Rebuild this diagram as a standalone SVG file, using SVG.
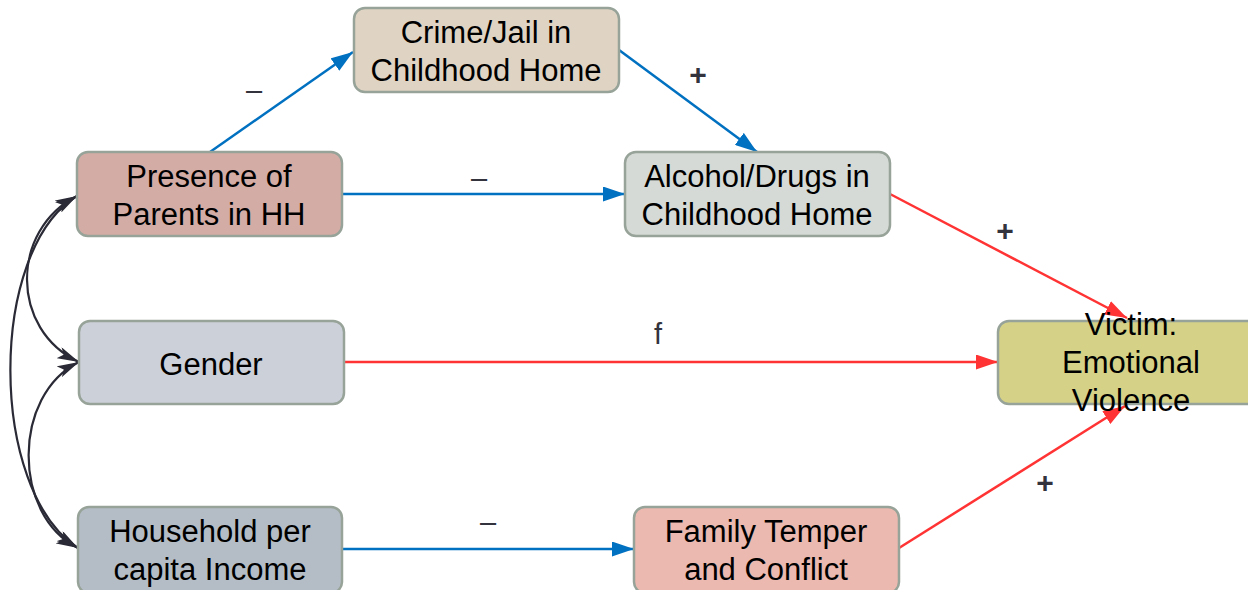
<svg xmlns="http://www.w3.org/2000/svg" width="1248" height="590" viewBox="0 0 1248 590">
  <style>
    .box { stroke: #97a398; stroke-width: 2.5; }
    .lbl { font-family: "Liberation Sans", Arial, sans-serif; font-size: 31px; fill: #000; text-anchor: middle; }
    .sign { font-family: "Liberation Sans", Arial, sans-serif; font-size: 29px; fill: #33333d; text-anchor: middle; }
    .plus { font-weight: bold; font-size: 30px; }
    .neg { fill: none; stroke: #0070c0; stroke-width: 2.5; }
    .pos { fill: none; stroke: #ff3333; stroke-width: 2.5; }
    .cor { fill: none; stroke: #2a2a36; stroke-width: 2.2; }
  </style>
  <defs>
    <marker id="arrBlue" viewBox="0 0 22 15" refX="22" refY="7.5" markerWidth="22" markerHeight="15" markerUnits="userSpaceOnUse" orient="auto">
      <path d="M0,0 L22,7.5 L0,15 Z" fill="#0070c0"/>
    </marker>
    <marker id="arrRed" viewBox="0 0 22 15" refX="22" refY="7.5" markerWidth="22" markerHeight="15" markerUnits="userSpaceOnUse" orient="auto">
      <path d="M0,0 L22,7.5 L0,15 Z" fill="#ff3333"/>
    </marker>
    <marker id="arrDark" viewBox="0 0 22 12" refX="22" refY="6" markerWidth="22" markerHeight="12" markerUnits="userSpaceOnUse" orient="auto-start-reverse">
      <path d="M0,0 L22,6 L0,12 L5,6 Z" fill="#2a2a36"/>
    </marker>
  </defs>

  <!-- connectors -->
  <g id="connectors">
    <!-- correlations between exogenous variables -->
    <path class="cor" d="M77 196 C10 230, 10 330, 79 362" marker-start="url(#arrDark)" marker-end="url(#arrDark)"/>
    <path class="cor" d="M79 362 C12 395, 12 515, 78 548" marker-start="url(#arrDark)" marker-end="url(#arrDark)"/>
    <path class="cor" d="M77 196 C-12 250, -12 490, 78 548" marker-start="url(#arrDark)" marker-end="url(#arrDark)"/>

    <!-- negative paths -->
    <line class="neg" x1="210" y1="152" x2="353" y2="52" marker-end="url(#arrBlue)"/>
    <line class="neg" x1="619" y1="50" x2="757" y2="152" marker-end="url(#arrBlue)"/>
    <line class="neg" x1="342" y1="194" x2="625" y2="194" marker-end="url(#arrBlue)"/>
    <line class="neg" x1="342" y1="549" x2="634" y2="549" marker-end="url(#arrBlue)"/>

    <!-- positive paths -->
    <line class="pos" x1="890" y1="194" x2="1127" y2="318" marker-end="url(#arrRed)"/>
    <line class="pos" x1="344" y1="362" x2="998" y2="362" marker-end="url(#arrRed)"/>
    <line class="pos" x1="899" y1="548" x2="1125" y2="406" marker-end="url(#arrRed)"/>

    <!-- path signs -->
    <text class="sign" x="254" y="100">–</text>
    <text class="sign plus" x="698" y="85">+</text>
    <text class="sign" x="479" y="188">–</text>
    <text class="sign plus" x="1005" y="241">+</text>
    <text class="sign" x="658" y="344">f</text>
    <text class="sign" x="488" y="532">–</text>
    <text class="sign plus" x="1045" y="493">+</text>
  </g>

  <!-- nodes -->
  <g id="crime">
    <rect class="box" x="354" y="8" width="265" height="84" rx="11" fill="#dfd3c3"/>
    <text class="lbl" x="486" y="43">Crime/Jail in</text>
    <text class="lbl" x="486" y="81">Childhood Home</text>
  </g>
  <g id="presence">
    <rect class="box" x="77" y="152" width="265" height="84" rx="11" fill="#d4aca6"/>
    <text class="lbl" x="209" y="187">Presence of</text>
    <text class="lbl" x="209" y="225">Parents in HH</text>
  </g>
  <g id="alcohol">
    <rect class="box" x="625" y="152" width="265" height="84" rx="11" fill="#d5dad6"/>
    <text class="lbl" x="757" y="187">Alcohol/Drugs in</text>
    <text class="lbl" x="757" y="225">Childhood Home</text>
  </g>
  <g id="gender">
    <rect class="box" x="79" y="321" width="265" height="83" rx="11" fill="#ccd0d9"/>
    <text class="lbl" x="211" y="375">Gender</text>
  </g>
  <g id="victim">
    <rect class="box" x="998" y="321" width="265" height="83" rx="11" fill="#d5d287"/>
    <text class="lbl" x="1131" y="335">Victim:</text>
    <text class="lbl" x="1131" y="373">Emotional</text>
    <text class="lbl" x="1131" y="411">Violence</text>
  </g>
  <g id="household">
    <rect class="box" x="78" y="507" width="264" height="86" rx="11" fill="#b4bdc6"/>
    <text class="lbl" x="210" y="542">Household per</text>
    <text class="lbl" x="210" y="580">capita Income</text>
  </g>
  <g id="family">
    <rect class="box" x="634" y="507" width="265" height="86" rx="11" fill="#ebb9af"/>
    <text class="lbl" x="766" y="542">Family Temper</text>
    <text class="lbl" x="766" y="580">and Conflict</text>
  </g>
</svg>
